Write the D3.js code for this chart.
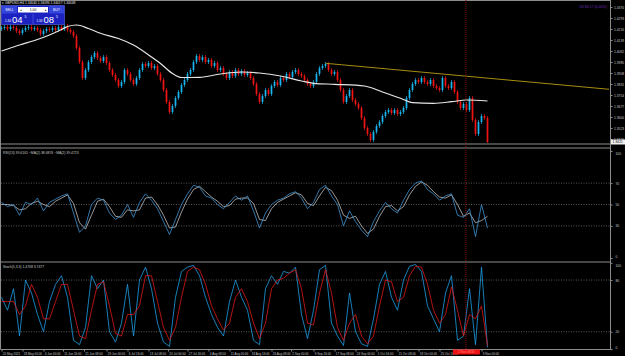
<!DOCTYPE html>
<html><head><meta charset="utf-8">
<script src="https://cdn.jsdelivr.net/npm/d3@7"></script>
<style>
html,body{margin:0;padding:0;background:#000;}
svg{display:block;font-family:"Liberation Sans",Arial,sans-serif;}
</style></head><body>
<svg id="chart" width="625" height="356"></svg>
<script>
// ── data (GBPUSD H4) ──
const firstOpen = 1.4216;
const closes = [
  1.4223,1.4230,1.4216,1.4230,1.4223,1.4202,1.4188,1.4209,1.4223,1.4230,
  1.4216,1.4223,1.4209,1.4181,1.4202,1.4216,1.4209,1.4223,1.4209,1.4230,
  1.4216,1.4237,1.4209,1.4195,1.4167,1.4083,1.3985,1.3873,1.3929,1.3985,
  1.4020,1.4048,1.4013,1.3992,1.4020,1.3978,1.3929,1.3894,1.3859,1.3817,
  1.3845,1.3929,1.3901,1.3859,1.3831,1.3873,1.3929,1.3971,1.3957,1.3978,
  1.3943,1.3957,1.3901,1.3859,1.3789,1.3705,1.3635,1.3677,1.3733,1.3775,
  1.3824,1.3859,1.3901,1.3929,1.3985,1.4027,1.3999,1.4020,1.3985,1.3999,
  1.3957,1.3978,1.3929,1.3943,1.3901,1.3873,1.3915,1.3887,1.3929,1.3901,
  1.3922,1.3894,1.3908,1.3873,1.3831,1.3761,1.3705,1.3747,1.3789,1.3761,
  1.3817,1.3845,1.3824,1.3873,1.3859,1.3901,1.3880,1.3915,1.3929,1.3901,
  1.3887,1.3859,1.3831,1.3817,1.3845,1.3901,1.3943,1.3957,1.3971,1.3929,
  1.3901,1.3915,1.3859,1.3789,1.3705,1.3747,1.3789,1.3719,1.3691,1.3663,
  1.3593,1.3523,1.3481,1.3439,1.3495,1.3537,1.3565,1.3607,1.3635,1.3649,
  1.3628,1.3649,1.3621,1.3635,1.3663,1.3733,1.3789,1.3831,1.3859,1.3845,
  1.3873,1.3845,1.3831,1.3859,1.3817,1.3803,1.3789,1.3873,1.3817,1.3803,
  1.3845,1.3775,1.3705,1.3663,1.3691,1.3649,1.3733,1.3579,1.3481,1.3565,
  1.3607,1.3593,1.3425
];
// moving average (white), sampled at candle indices
const maIdx = [0,3,6,11,16,20,22,25,29,33,39,44,50,53,57,60,66,73,80,86,93,100,104,111,121,127,133,137,144,150,155,162];
const maVal = [1.4062,1.4083,1.4104,1.41355,1.4174,1.42125,1.42335,1.4244,1.42195,1.4186,1.41495,1.4104,1.4020,1.39745,1.39045,1.38765,
  1.3878,1.3901,1.3915,1.3908,1.3887,1.3852,1.3836,1.3829,1.3817,1.3775,1.3731,1.3700,1.3696,1.3707,1.3719,1.3712];
const trendIdx = [108, 202.5];
const trendVal = [1.3976, 1.3794];
const markerIdx = 154.8;
const priceTicks = [1.4370,1.4293,1.4216,1.4139,1.4062,1.3985,1.3908,1.3831,1.3754,1.3677,1.3600,1.3523,1.3446];

// RSI(13) and its MA, one value every 2 candles
const rsiVal = [52,48,50,40,52,50,56,44,52,55,58,60,42,24,30,50,56,54,42,36,
  40,50,38,52,60,54,46,34,22,36,50,60,68,66,58,56,50,46,52,58,
  54,58,44,28,42,50,54,56,60,62,56,46,52,64,68,58,50,30,44,34,
  26,20,34,44,52,46,42,54,64,70,72,64,60,54,58,60,40,38,46,20,50,28];
const rsiMaVal = [50,50,49,45,46,51,53,50,48,53,56,59,51,33,27,40,53,55,48,39,
  38,45,44,45,56,57,50,40,28,29,43,55,64,67,62,57,53,48,49,55,
  56,56,51,36,35,46,52,55,58,61,59,51,49,58,66,63,54,40,37,39,
  30,23,27,39,48,49,44,48,59,67,71,68,62,57,56,59,50,39,42,33,35,39];
const rsiLevels = [70,50,30];
const rsiTicks = [100,70,50,30,0];

// Stochastic(5,3,3), one value every 2 candles
const stochMain = [60,45,70,15,80,65,40,20,55,75,85,60,10,5,25,85,70,80,20,8,
  30,75,15,80,95,70,30,8,3,60,90,95,97,85,60,40,25,15,55,80,
  60,45,10,5,70,85,75,90,88,95,40,12,45,92,97,30,15,4,65,20,
  6,3,35,75,90,60,45,80,96,98,90,50,35,20,65,85,10,15,70,5,95,2];
const stochSignal = [55,55,55,40,50,75,60,35,35,55,75,75,45,15,12,45,75,78,50,18,
  15,40,40,50,85,85,55,25,10,25,60,90,95,92,75,50,35,22,30,60,
  70,55,30,12,30,70,80,82,88,92,70,30,28,65,92,65,25,10,30,40,
  15,6,15,50,80,78,55,60,85,96,95,75,45,30,40,72,45,15,40,35,50,4];
const stochLevels = [80,20];
const stochTicks = [100,80,20,0];

const timeIdx = [0,7,14,20.5,27.5,35,42,49,55.5,62,69,76,83,90,96.5,104,111,118,125,132,139,146,160];
const timeLabels = ["20 May 2021","28 May 00:00","4 Jun 00:00","11 Jun 16:00","21 Jun 08:00","29 Jun 00:00","6 Jul 16:00",
  "13 Jul 08:00","20 Jul 00:00","27 Jul 16:00","4 Aug 08:00","11 Aug 00:00","18 Aug 16:00","26 Aug 08:00","2 Sep 00:00",
  "9 Sep 16:00","17 Sep 08:00","24 Sep 00:00","1 Oct 16:00","11 Oct 08:00","18 Oct 00:00","25 Oct 16:00","9 Nov 00:00"];

// ── layout ──
const svg = d3.select("#chart");
const AX = 610;             // right price axis
const FRAME = "#8c8c8c", TXT = "#c8c8c8", LVL = "#6e6e6e";
const UP = "#19b6f0", DN = "#f01414";

const x = d3.scaleLinear().domain([0, closes.length - 1]).range([1.5, 487.5]);
const yP = d3.scaleLinear().domain([priceTicks[0], priceTicks[priceTicks.length - 1]]).range([7, 139]);
const yR = d3.scaleLinear().domain([0, 100]).range([258, 151]);
const yS = d3.scaleLinear().domain([0, 100]).range([349, 262.8]);

svg.append("rect").attr("width", 625).attr("height", 356).attr("fill", "#000");

const defs = svg.append("defs");
defs.append("clipPath").attr("id", "cpMain").append("rect").attr("x", 1).attr("y", 1).attr("width", AX - 1).attr("height", 142);
defs.append("clipPath").attr("id", "cpRsi").append("rect").attr("x", 1).attr("y", 149).attr("width", AX - 1).attr("height", 112);
defs.append("clipPath").attr("id", "cpSto").append("rect").attr("x", 1).attr("y", 263).attr("width", AX - 1).attr("height", 86);

// ── main price panel ──
const main = svg.append("g").attr("clip-path", "url(#cpMain)");
const candles = closes.map((c, i) => ({ i, o: i ? closes[i - 1] : firstOpen, c }));
main.selectAll("line.wick").data(candles).join("line").attr("class", "wick")
  .attr("x1", d => x(d.i)).attr("x2", d => x(d.i))
  .attr("y1", d => Math.min(yP(d.o), yP(d.c)) - 2).attr("y2", d => Math.max(yP(d.o), yP(d.c)) + 2)
  .attr("stroke", d => d.c >= d.o ? UP : DN).attr("stroke-width", 0.7);
main.selectAll("rect.body").data(candles).join("rect").attr("class", "body")
  .attr("x", d => x(d.i) - 0.85).attr("width", 1.7)
  .attr("y", d => Math.min(yP(d.o), yP(d.c))).attr("height", d => Math.max(1, Math.abs(yP(d.o) - yP(d.c))))
  .attr("fill", d => d.c >= d.o ? UP : DN);

const maPts = maIdx.map((k, j) => [k, maVal[j]]);
main.append("path").datum(maPts).attr("fill", "none").attr("stroke", "#e6e6e6").attr("stroke-width", 1.2)
  .attr("d", d3.line().x(d => x(d[0])).y(d => yP(d[1])).curve(d3.curveMonotoneX));

main.append("line").attr("x1", x(trendIdx[0])).attr("y1", yP(trendVal[0])).attr("x2", x(trendIdx[1])).attr("y2", yP(trendVal[1]))
  .attr("stroke", "#a58c12").attr("stroke-width", 1);

// ── RSI panel ──
const rsiG = svg.append("g").attr("clip-path", "url(#cpRsi)");
rsiG.selectAll("line.lvl").data(rsiLevels).join("line").attr("class", "lvl")
  .attr("x1", 1).attr("x2", AX).attr("y1", d => yR(d)).attr("y2", d => yR(d))
  .attr("stroke", LVL).attr("stroke-width", 0.8).attr("stroke-dasharray", "1,1.5");
const lineK = yFn => d3.line().x((d, k) => x(k * 2)).y(d => yFn(d));
rsiG.append("path").datum(rsiMaVal).attr("fill", "none").attr("stroke", "#d8d8d8").attr("stroke-width", 0.7).attr("d", lineK(yR));
rsiG.append("path").datum(rsiVal).attr("fill", "none").attr("stroke", "#3f93d2").attr("stroke-width", 0.8).attr("d", lineK(yR));
svg.append("text").attr("x", 3).attr("y", 154).attr("font-size", 3.4).attr("fill", TXT)
  .text("RSI(13) 39.6105  ~MA(2) 38.6876  ~MA(2) 39.4723");

// ── Stochastic panel ──
const stoG = svg.append("g").attr("clip-path", "url(#cpSto)");
stoG.selectAll("line.lvl").data(stochLevels).join("line").attr("class", "lvl")
  .attr("x1", 1).attr("x2", AX).attr("y1", d => yS(d)).attr("y2", d => yS(d))
  .attr("stroke", LVL).attr("stroke-width", 0.8).attr("stroke-dasharray", "1,1.5");
stoG.append("path").datum(stochMain).attr("fill", "none").attr("stroke", "#1e9ee6").attr("stroke-width", 0.8).attr("d", lineK(yS));
stoG.append("path").datum(stochSignal).attr("fill", "none").attr("stroke", "#e01818").attr("stroke-width", 0.8).attr("d", lineK(yS));
svg.append("text").attr("x", 3).attr("y", 268).attr("font-size", 3.4).attr("fill", TXT).text("Stoch(5,3,3) 1.4708 3.7477");

// ── frames ──
const frame = svg.append("g").attr("stroke", FRAME).attr("stroke-width", 1).attr("fill", "none");
[[0.5, 0.5, AX, 0.5], [0.5, 144, AX, 144], [0.5, 148, AX, 148], [0.5, 262, AX, 262], [0.5, 349.5, AX, 349.5],
 [0.5, 0.5, 0.5, 349.5], [AX + 0.5, 0, AX + 0.5, 350]].forEach(l =>
  frame.append("line").attr("x1", l[0]).attr("y1", l[1]).attr("x2", l[2]).attr("y2", l[3]));

// vertical marker
svg.append("line").attr("x1", x(markerIdx)).attr("x2", x(markerIdx)).attr("y1", 0).attr("y2", 351)
  .attr("stroke", "#9a1010").attr("stroke-width", 0.9).attr("stroke-dasharray", "1,1");

// ── axes ──
function styleAxis(g) {
  g.select(".domain").remove();
  g.selectAll(".tick line").attr("stroke", FRAME);
  g.selectAll(".tick text").attr("fill", TXT).attr("font-size", 3.3).attr("font-family", "Liberation Sans, Arial, sans-serif");
}
svg.append("g").attr("transform", `translate(${AX + 0.5},0)`)
  .call(d3.axisRight(yP).tickValues(priceTicks).tickFormat(d3.format(".4f")).tickSize(2).tickPadding(1.5)).call(styleAxis);
svg.append("g").attr("transform", `translate(${AX + 0.5},0)`)
  .call(d3.axisRight(yR).tickValues(rsiTicks).tickFormat(d => d).tickSize(2).tickPadding(3)).call(styleAxis);
svg.append("g").attr("transform", `translate(${AX + 0.5},0)`)
  .call(d3.axisRight(yS).tickValues(stochTicks).tickFormat(d => d).tickSize(2).tickPadding(3)).call(styleAxis);
// keep the 100 / 0 labels inside their panels
svg.selectAll("g.tick text").filter(function () { return this.textContent === "100"; }).attr("dy", "1.1em");
svg.selectAll("g.tick text").filter(function () { return this.textContent === "0"; }).attr("dy", "-0.2em");

const tAx = svg.append("g").attr("transform", "translate(0,349.5)")
  .call(d3.axisBottom(x).tickValues(timeIdx).tickFormat((d, k) => timeLabels[k]).tickSize(2).tickPadding(1)).call(styleAxis);
tAx.selectAll(".tick text").attr("text-anchor", "start").attr("dx", 0.8).attr("font-size", 3.0);

// crosshair time label
svg.append("rect").attr("x", x(markerIdx) - 13).attr("y", 349.5).attr("width", 27).attr("height", 5).attr("fill", "#ee1111");
svg.append("text").attr("x", x(markerIdx) + 0.5).attr("y", 353.3).attr("text-anchor", "middle").attr("font-size", 3.0).attr("fill", "#ff8a8a").text("2 Nov 08:00");

// current price box
const last = closes[closes.length - 1];
svg.append("rect").attr("x", AX + 1).attr("y", yP(last) - 2.5).attr("width", 14).attr("height", 5).attr("fill", "#f2f2f2");
svg.append("text").attr("x", AX + 2.5).attr("y", yP(last) + 1.2).attr("font-size", 3.3).attr("fill", "#000").text(d3.format(".4f")(last));

// ── header + one-click panel ──
svg.append("text").attr("x", 2).attr("y", 4.3).attr("font-size", 3.3).attr("fill", "#e0e0e0")
  .text("▾ GBPUSD,H4  1.34040 1.34096 1.34017 1.34048");
svg.append("text").attr("x", 607).attr("y", 8).attr("text-anchor", "end").attr("font-size", 3.6).attr("fill", "#6c2bb8")
  .text("03:36:17 (0.00%)");

const oc = svg.append("g");
oc.append("rect").attr("x", 1.5).attr("y", 5.5).attr("width", 63).attr("height", 19).attr("fill", "#1c22c0").attr("stroke", "#5a66f0").attr("stroke-width", 0.6);
oc.append("rect").attr("x", 2).attr("y", 6).attr("width", 15).attr("height", 7.5).attr("fill", "#3446dc");
oc.append("rect").attr("x", 49).attr("y", 6).attr("width", 15).attr("height", 7.5).attr("fill", "#3446dc");
oc.append("rect").attr("x", 18).attr("y", 7).attr("width", 30).attr("height", 5.5).attr("fill", "#fff");
oc.append("text").attr("x", 9.5).attr("y", 11).attr("text-anchor", "middle").attr("font-size", 3.4).attr("fill", "#fff").text("SELL");
oc.append("text").attr("x", 56.5).attr("y", 11).attr("text-anchor", "middle").attr("font-size", 3.4).attr("fill", "#fff").text("BUY");
oc.append("text").attr("x", 19.5).attr("y", 11).attr("font-size", 3.4).attr("fill", "#000").text("◂");
oc.append("text").attr("x", 46.5).attr("y", 11).attr("text-anchor", "end").attr("font-size", 3.4).attr("fill", "#000").text("▸");
oc.append("text").attr("x", 33).attr("y", 11).attr("text-anchor", "middle").attr("font-size", 3.4).attr("fill", "#000").text("1.00");
oc.append("line").attr("x1", 33).attr("x2", 33).attr("y1", 14).attr("y2", 24).attr("stroke", "#5a66f0").attr("stroke-width", 0.6);
[["1.34", "04", "5", 2], ["1.34", "08", "5", 33.5]].forEach(([a, b, c, x0]) => {
  oc.append("text").attr("x", x0 + 3).attr("y", 21.5).attr("font-size", 3).attr("fill", "#fff").text(a);
  oc.append("text").attr("x", x0 + 10).attr("y", 23).attr("font-size", 9.5).attr("fill", "#fff").text(b);
  oc.append("text").attr("x", x0 + 22.5).attr("y", 17.5).attr("font-size", 3.5).attr("fill", "#fff").text(c);
});
</script>
</body></html>
